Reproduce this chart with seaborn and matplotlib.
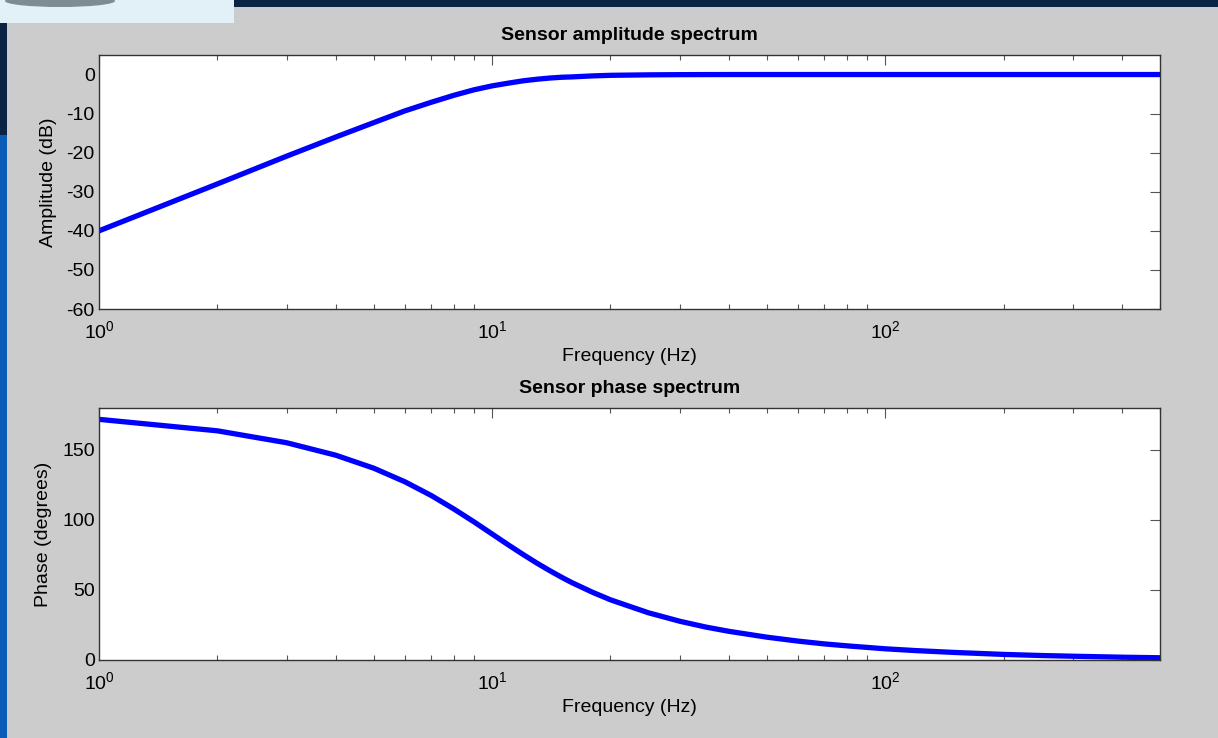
import numpy as np
import pandas as pd
import matplotlib
matplotlib.use("Agg")
import matplotlib.pyplot as plt
import seaborn as sns
from matplotlib.patches import Rectangle, Ellipse
from matplotlib.ticker import LogLocator, NullFormatter

# Frequency samples (Hz)
freq_hz = [1, 2, 3, 4, 5, 6, 7, 8, 9, 10, 11, 12, 13, 14, 15, 16, 18, 20, 25,
           30, 35, 40, 50, 60, 70, 80, 100, 120, 150, 200, 250, 300, 400, 500]
# Sensor amplitude response (dB)
amplitude_db = [-40.0, -28.0, -20.9, -16.0, -12.3, -9.3, -7.1, -5.3, -3.9, -2.9,
                -2.2, -1.6, -1.2, -0.9, -0.7, -0.6, -0.35, -0.2, -0.08,
                -0.03, -0.01, 0.0, 0.0, 0.0, 0.0, 0.0, 0.0, 0.0, 0.0, 0.0,
                0.0, 0.0, 0.0, 0.0]
# Sensor phase response (degrees)
phase_deg = [171.9, 163.7, 155.2, 146.3, 137.0, 127.3, 117.5, 107.8, 98.6, 90.0,
             82.2, 75.3, 69.2, 63.9, 59.2, 55.1, 48.4, 43.0, 33.7,
             27.7, 23.5, 20.5, 16.3, 13.5, 11.5, 10.1, 8.0, 6.7, 5.4, 4.0,
             3.2, 2.7, 2.0, 1.6]

amp_ticks = [0, -10, -20, -30, -40, -50, -60]
phase_ticks = [0, 50, 100, 150]

df = pd.DataFrame({"freq": freq_hz, "amp": amplitude_db, "phase": phase_deg})

sns.set_style("white")
plt.rcParams["font.family"] = ["Liberation Sans", "DejaVu Sans"]
plt.rcParams["mathtext.default"] = "regular"
plt.rcParams["axes.unicode_minus"] = False
plt.rcParams["text.color"] = "black"
plt.rcParams["axes.labelcolor"] = "black"

fig = plt.figure(figsize=(12.18, 7.38), dpi=100)
fig.patch.set_facecolor("#cccccc")

# Slide frame around the figure window
fig.patches.append(Rectangle((0, 1 - 7 / 738), 1, 7 / 738, transform=fig.transFigure,
                             facecolor="#0b2344", edgecolor="none", zorder=0))
fig.patches.append(Rectangle((0, 1 - 135 / 738), 7 / 1218, 135 / 738, transform=fig.transFigure,
                             facecolor="#0b2344", edgecolor="none", zorder=0))
fig.patches.append(Rectangle((0, 0), 7 / 1218, 1 - 135 / 738, transform=fig.transFigure,
                             facecolor="#0a5cb8", edgecolor="none", zorder=0))
fig.patches.append(Rectangle((0, 1 - 23 / 738), 234 / 1218, 23 / 738, transform=fig.transFigure,
                             facecolor="#e2f0f7", edgecolor="none", zorder=1))
fig.patches.append(Ellipse((60 / 1218, 1 - 1 / 738), 110 / 1218, 12 / 738, transform=fig.transFigure,
                           facecolor="#3c4850", edgecolor="none", alpha=0.6, zorder=2))

ax1 = fig.add_axes([99 / 1218, 1 - 309 / 738, 1061 / 1218, 254 / 738])
ax2 = fig.add_axes([99 / 1218, 1 - 660 / 738, 1061 / 1218, 252 / 738])

line_kw = dict(color="#0000ff", linewidth=3.8, legend=False)
sns.lineplot(data=df, x="freq", y="amp", ax=ax1, **line_kw)
sns.lineplot(data=df, x="freq", y="phase", ax=ax2, **line_kw)

titles = ["Sensor amplitude spectrum", "Sensor phase spectrum"]
ylabels = ["Amplitude (dB)", "Phase (degrees)"]
ylims = [(-60, 5), (0, 180)]
yticks = [amp_ticks, phase_ticks]

for ax, title, ylab, ylim, yt in zip([ax1, ax2], titles, ylabels, ylims, yticks):
    ax.set_facecolor("white")
    ax.set_xscale("log")
    ax.set_xlim(1, 500)
    ax.set_ylim(*ylim)
    ax.set_yticks(yt)
    ax.xaxis.set_major_locator(LogLocator(base=10, numticks=10))
    ax.xaxis.set_minor_locator(LogLocator(base=10, subs=np.arange(2, 10), numticks=20))
    ax.xaxis.set_minor_formatter(NullFormatter())
    ax.tick_params(axis="both", which="major", direction="in", length=7, width=0.8,
                   top=True, right=True, labelsize=14, colors="#555555",
                   labelcolor="black", pad=3)
    ax.tick_params(axis="x", which="minor", direction="in", length=3.8, width=0.8,
                   top=True, bottom=True, colors="#555555")
    ax.tick_params(axis="x", which="major", pad=8)
    for s in ax.spines.values():
        s.set_color("#333333")
        s.set_linewidth(1.0)
    ax.set_title(title, fontsize=14, fontweight="bold", pad=11, color="black")
    ax.set_xlabel("Frequency (Hz)", fontsize=14, labelpad=4)
    ax.set_ylabel(ylab, fontsize=14, labelpad=7)

fig.savefig("out.png", dpi=100, facecolor=fig.get_facecolor())
